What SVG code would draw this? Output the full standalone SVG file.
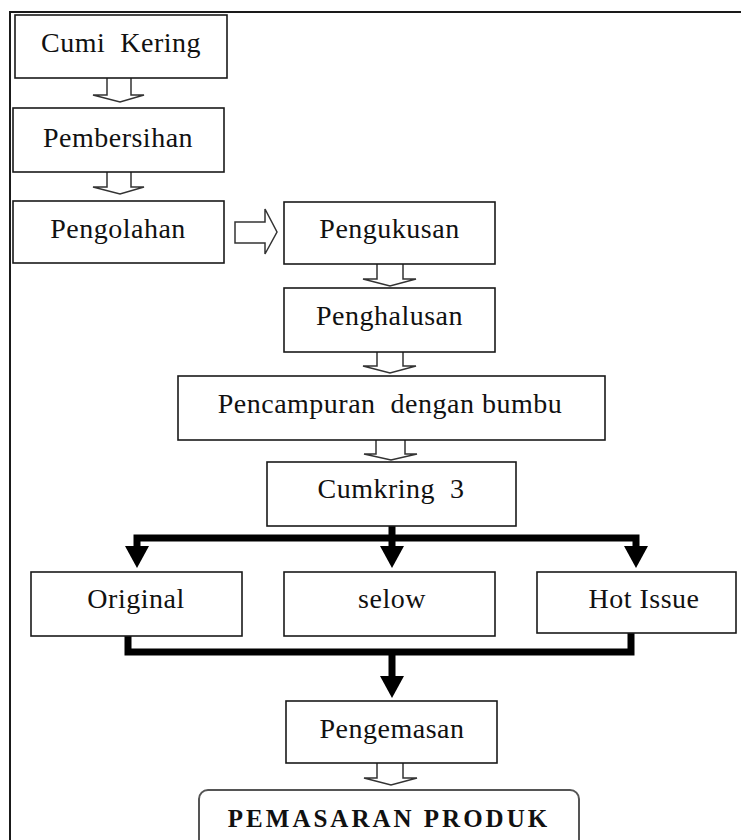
<svg xmlns="http://www.w3.org/2000/svg" width="741" height="840" viewBox="0 0 741 840">
<style>
.box{fill:#fff;stroke:#1a1a1a;stroke-width:1.6}
.lbl{font-family:'Liberation Serif','Times New Roman',Times,'DejaVu Serif',serif;font-size:28px;letter-spacing:0.5px;fill:#111;text-anchor:middle;white-space:pre}
.bold{font-weight:bold;font-size:25px;letter-spacing:3px}
.blk{fill:#fff;stroke:#333;stroke-width:1.5;stroke-linejoin:miter}
.thick{fill:none;stroke:#000;stroke-width:7;stroke-linejoin:miter}
</style>
<defs>
<marker id="ah" markerUnits="userSpaceOnUse" markerWidth="22" markerHeight="24" viewBox="0 0 22 24" refX="1" refY="12" orient="auto">
<path d="M0,0 L22,12 L0,24 z" fill="#000"/>
</marker>
</defs>
<rect x="0" y="0" width="741" height="840" fill="#fff"/>
<path d="M10,840 V12 H741" fill="none" stroke="#1a1a1a" stroke-width="2"/>

<g id="connectors">
<path class="blk" d="M107,78 V95 H93 L120,102 L144,95 H131 V78"/>
<path class="blk" d="M107,172 V187 H93 L120,194 L144,187 H131 V172"/>
<path class="blk" d="M235,222 H265 V209 L277,232 L265,254 V243 H235 Z"/>
<path class="blk" d="M377,264 V279 H363 L390,286 L416,279 H403 V264"/>
<path class="blk" d="M377,352 V366 H363 L390,373 L416,366 H403 V352"/>
<path class="blk" d="M376,440 V454 H364 L391,460 L417,454 H405 V440"/>
<path class="blk" d="M377,763 V778 H364 L391,785 L417,778 H403 V763"/>
<path class="thick" d="M392,526 V547" marker-end="url(#ah)"/>
<path class="thick" d="M392,538 H137 V547" marker-end="url(#ah)"/>
<path class="thick" d="M392,538 H636 V547" marker-end="url(#ah)"/>
<path class="thick" d="M128,636 V652 H631 V633"/>
<path class="thick" d="M392,652 V677" marker-end="url(#ah)"/>
</g>

<g id="n1"><rect class="box" x="15" y="15" width="212" height="63"/><text class="lbl" x="121" y="52">Cumi  Kering</text></g>
<g id="n2"><rect class="box" x="13" y="108" width="211" height="64"/><text class="lbl" x="118" y="147">Pembersihan</text></g>
<g id="n3"><rect class="box" x="13" y="201" width="211" height="62"/><text class="lbl" x="118" y="238">Pengolahan</text></g>
<g id="n4"><rect class="box" x="284" y="202" width="211" height="62"/><text class="lbl" x="389.5" y="238">Pengukusan</text></g>
<g id="n5"><rect class="box" x="284" y="288" width="211" height="64"/><text class="lbl" x="389.5" y="325">Penghalusan</text></g>
<g id="n6"><rect class="box" x="178" y="376" width="427" height="64"/><text class="lbl" x="390" y="413">Pencampuran  dengan bumbu</text></g>
<g id="n7"><rect class="box" x="267" y="462" width="249" height="64"/><text class="lbl" x="391" y="498">Cumkring  3</text></g>
<g id="n8"><rect class="box" x="31" y="572" width="211" height="64"/><text class="lbl" x="136" y="608">Original</text></g>
<g id="n9"><rect class="box" x="284" y="572" width="211" height="64"/><text class="lbl" x="392" y="608">selow</text></g>
<g id="n10"><rect class="box" x="537" y="572" width="199" height="61"/><text class="lbl" x="644" y="608">Hot Issue</text></g>
<g id="n11"><rect class="box" x="286" y="701" width="211" height="62"/><text class="lbl" x="392" y="738">Pengemasan</text></g>
<g id="n12"><rect x="199" y="790" width="380" height="70" rx="9" fill="#fff" stroke="#555" stroke-width="2"/><text class="lbl bold" x="389" y="827">PEMASARAN PRODUK</text></g>
</svg>
